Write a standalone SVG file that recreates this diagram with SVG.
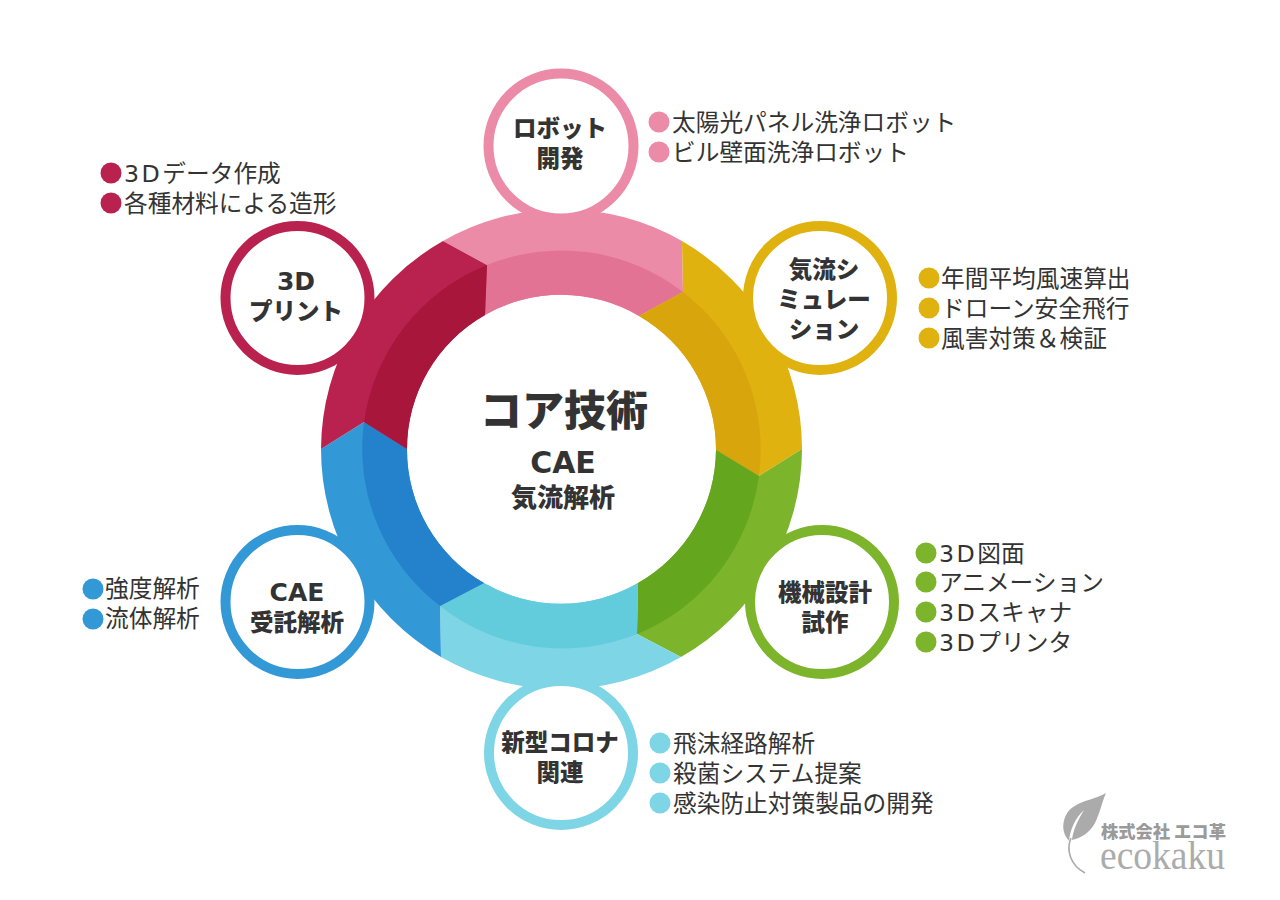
<svg xmlns="http://www.w3.org/2000/svg" width="1280" height="900" viewBox="0 0 1280 900">
<style>
text{font-family:"DejaVu Sans","Noto Sans CJK JP",sans-serif;fill:#333}
.n{font-size:23.5px;font-weight:900;text-anchor:middle}
.b{font-size:23.7px;font-weight:400}
.l{letter-spacing:2.5px}
.ring{fill:#fff;stroke-width:10}
</style>
<rect width="1280" height="900" fill="#fff"/>
<g id="ring">
<path fill="#EB8BA8" d="M443,241A240.5,240.5 0 0 1 682,241L683,292L639,316A154,154 0 0 0 485,315L487,265Z"/>
<path fill="#E37394" d="M487,265A198.5,198.5 0 0 1 683,292L639,316A154,154 0 0 0 485,315Z"/>
<path fill="#E0B210" d="M682,241A240.5,240.5 0 0 1 802,449L759,476L716,450A154,154 0 0 0 639,316L683,292Z"/>
<path fill="#D9A50C" d="M683,292A198.5,198.5 0 0 1 759,476L716,450A154,154 0 0 0 639,316Z"/>
<path fill="#7CB42C" d="M802,449A240.5,240.5 0 0 1 681,657L637,634L638,583A154,154 0 0 0 716,450L759,476Z"/>
<path fill="#65A61F" d="M759,476A198.5,198.5 0 0 1 637,634L638,583A154,154 0 0 0 716,450Z"/>
<path fill="#7DD5E5" d="M681,657A240.5,240.5 0 0 1 441,657L440,606L484,583A154,154 0 0 0 638,583L637,634Z"/>
<path fill="#62CBDC" d="M637,634A198.5,198.5 0 0 1 440,606L484,583A154,154 0 0 0 638,583Z"/>
<path fill="#3298D6" d="M441,657A240.5,240.5 0 0 1 321,449L364,422L407,449A154,154 0 0 0 484,583L440,606Z"/>
<path fill="#2482CC" d="M440,606A198.5,198.5 0 0 1 364,422L407,449A154,154 0 0 0 484,583Z"/>
<path fill="#B9224F" d="M321,449A240.5,240.5 0 0 1 443,241L487,265L485,315A154,154 0 0 0 407,449L364,422Z"/>
<path fill="#A9163B" d="M364,422A198.5,198.5 0 0 1 487,265L485,315A154,154 0 0 0 407,449Z"/>
</g>
<g id="center">
<text x="564" y="426" font-size="42" font-weight="900" text-anchor="middle">コア技術</text>
<text x="563" y="473" font-size="30" font-weight="700" text-anchor="middle">CAE</text>
<text x="563" y="507" font-size="26" font-weight="900" text-anchor="middle">気流解析</text>
</g>
<g id="node-robot">
<circle class="ring" cx="561" cy="146" r="72.5" stroke="#EB8BA8"/>
<text class="n" x="560" y="137">ロボット</text><text class="n" x="560" y="167">開発</text>
<circle cx="659" cy="122" r="10.5" fill="#EB8BA8"/><text class="b" x="672" y="131">太陽光パネル洗浄ロボット</text>
<circle cx="659" cy="152" r="10.5" fill="#EB8BA8"/><text class="b" x="672" y="161">ビル壁面洗浄ロボット</text>
</g>
<g id="node-airflow">
<circle class="ring" cx="820" cy="298" r="72" stroke="#E0B210"/>
<text class="n" x="824" y="278">気流シ</text><text class="n" x="824" y="308">ミュレー</text><text class="n" x="824" y="338">ション</text>
<circle cx="929" cy="278" r="10.5" fill="#E0B210"/><text class="b" x="941" y="287">年間平均風速算出</text>
<circle cx="929" cy="308" r="10.5" fill="#E0B210"/><text class="b" x="941" y="317">ドローン安全飛行</text>
<circle cx="929" cy="338" r="10.5" fill="#E0B210"/><text class="b" x="941" y="347">風害対策＆検証</text>
</g>
<g id="node-design">
<circle class="ring" cx="822" cy="602" r="72" stroke="#7CB42C"/>
<text class="n" x="825" y="601">機械設計</text><text class="n" x="825" y="631">試作</text>
<circle cx="926" cy="553" r="10.5" fill="#7CB42C"/><text class="b" x="939" y="562"><tspan class="l">3D</tspan>図面</text>
<circle cx="926" cy="582" r="10.5" fill="#7CB42C"/><text class="b" x="939" y="591">アニメーション</text>
<circle cx="926" cy="612" r="10.5" fill="#7CB42C"/><text class="b" x="939" y="621"><tspan class="l">3D</tspan>スキャナ</text>
<circle cx="926" cy="642" r="10.5" fill="#7CB42C"/><text class="b" x="939" y="651"><tspan class="l">3D</tspan>プリンタ</text>
</g>
<g id="node-corona">
<circle class="ring" cx="561" cy="753" r="72" stroke="#7DD5E5"/>
<text class="n" x="560" y="751">新型コロナ</text><text class="n" x="560" y="781">関連</text>
<circle cx="660" cy="743" r="10.5" fill="#7DD5E5"/><text class="b" x="673" y="752">飛沫経路解析</text>
<circle cx="660" cy="773" r="10.5" fill="#7DD5E5"/><text class="b" x="673" y="782">殺菌システム提案</text>
<circle cx="660" cy="803" r="10.5" fill="#7DD5E5"/><text class="b" x="673" y="812">感染防止対策製品の開発</text>
</g>
<g id="node-cae">
<circle class="ring" cx="297.500" cy="602" r="72" stroke="#3298D6"/>
<text class="n" x="297" y="601" style="font-size:25px">CAE</text><text class="n" x="297" y="631">受託解析</text>
<circle cx="93" cy="589" r="10.5" fill="#3298D6"/><text class="b" x="105" y="597">強度解析</text>
<circle cx="93" cy="619" r="10.5" fill="#3298D6"/><text class="b" x="105" y="627">流体解析</text>
</g>
<g id="node-print">
<circle class="ring" cx="297.500" cy="298" r="72" stroke="#B9224F"/>
<text class="n" x="296" y="290" style="font-size:25px">3D</text><text class="n" x="296" y="320">プリント</text>
<circle cx="111" cy="173" r="10.5" fill="#B9224F"/><text class="b" x="124" y="182"><tspan class="l">3D</tspan>データ作成</text>
<circle cx="111" cy="203" r="10.5" fill="#B9224F"/><text class="b" x="124" y="212">各種材料による造形</text>
</g>
<g id="logo">
<path fill="#ABABAB" d="M1106,793C1096,799 1083,800 1073,807C1064,813 1062,825 1064,832C1065,836 1067,838 1069,841C1070,830 1075,818 1084,810C1078,820 1073,830 1072,840C1082,838 1090,832 1095,823C1100,813 1102,802 1106,793Z"/>
<path fill="none" stroke="#ABABAB" stroke-width="1.6" d="M1071,838C1066,850 1070,865 1085,873"/>
<text x="1101" y="838" font-size="17.3" font-weight="900" style="fill:#9A9A9A;font-family:'Noto Sans CJK JP',sans-serif">株式会社 エコ革</text>
<text x="1100" y="869" font-size="39" style="fill:#ABABAB;font-family:'Liberation Serif',serif" textLength="125" lengthAdjust="spacingAndGlyphs">ecokaku</text>
</g>
</svg>
